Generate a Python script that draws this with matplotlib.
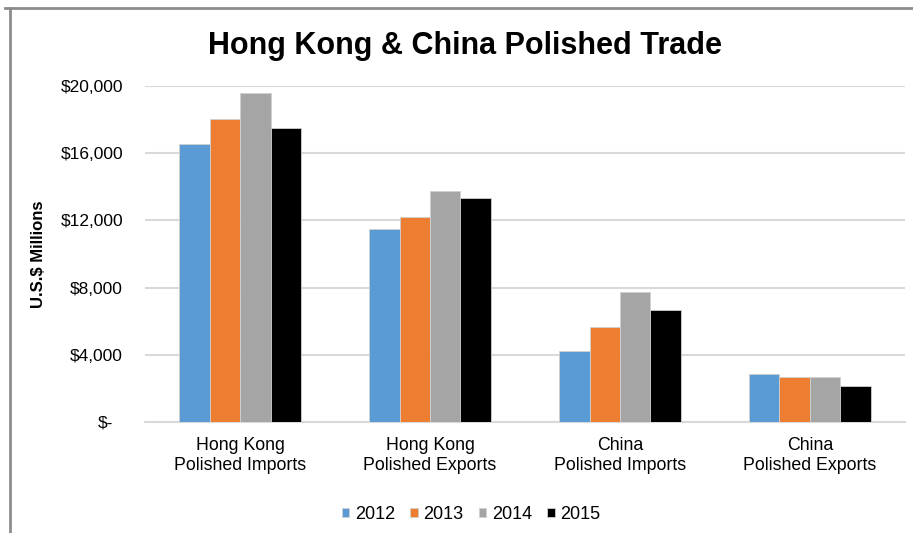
import matplotlib
matplotlib.use("Agg")
import matplotlib.pyplot as plt
import matplotlib.transforms as mtransforms
from matplotlib.lines import Line2D
import numpy as np

plt.rcParams['font.family'] = ['Liberation Sans', 'DejaVu Sans']

# data (US$ millions)
categories = ["Hong Kong\nPolished Imports", "Hong Kong\nPolished Exports",
              "China\nPolished Imports", "China\nPolished Exports"]
years = ["2012", "2013", "2014", "2015"]
v2012 = [16550, 11500, 4230, 2860]
v2013 = [18050, 12200, 5660, 2660]
v2014 = [19580, 13730, 7740, 2680]
v2015 = [17500, 13310, 6690, 2130]
yticks = [0, 4000, 8000, 12000, 16000, 20000]
ytick_labels = ["$-", "$4,000", "$8,000", "$12,000", "$16,000", "$20,000"]

colors = ["#5b9bd5", "#ed7d31", "#a5a5a5", "#000000"]

fig = plt.figure(figsize=(9.13, 5.33), dpi=100)
ax = fig.add_axes([0.159, 0.2083, 0.832, 0.6303])

x = np.arange(len(categories))
w = 0.16
series = [v2012, v2013, v2014, v2015]
for i, (vals, yr) in enumerate(zip(series, years)):
    ax.bar(x + (i - 1.5) * w, vals, width=w, color=colors[i], label=yr,
           edgecolor="#d0d0d0", linewidth=0.6, zorder=3)

ax.set_xlim(-0.5, len(categories) - 0.5)
ax.set_ylim(0, 20000)
ax.set_yticks(yticks)
ax.set_yticklabels(ytick_labels, fontsize=12.5)
ax.set_xticks(x)
ax.set_xticklabels(categories, fontsize=12.8, linespacing=1.3)
ax.tick_params(axis="y", length=0, pad=16)
ax.tick_params(axis="x", length=0, pad=10.5)
ax.yaxis.grid(True, color="#d9d9d9", linewidth=1.5, zorder=0)
for s in ["top", "right", "left"]:
    ax.spines[s].set_visible(False)
ax.spines["bottom"].set_color("#d9d9d9")
ax.spines["bottom"].set_linewidth(1.5)

# accounting style: the "$-" label sits a bit further left
zero_lab = ax.get_yticklabels()[0]
zero_lab.set_transform(zero_lab.get_transform() +
                       mtransforms.ScaledTranslation(-0.10, 0, fig.dpi_scale_trans))

ax.set_ylabel("U.S.$ Millions", fontsize=12, fontweight="bold")
ax.yaxis.set_label_coords(-0.130, 0.5)

fig.text(0.509, 0.914, "Hong Kong & China Polished Trade", ha="center", va="center",
         fontsize=22, fontweight="bold")

fig.legend(loc="center", bbox_to_anchor=(0.516, 0.035), ncol=4, frameon=False,
           fontsize=13, handlelength=0.42, handleheight=0.42, handletextpad=0.3,
           columnspacing=0.85)

# chart frame (top and left edges visible)
fig.add_artist(Line2D([0.006, 1.0], [0.985, 0.985], color="#8c8c8c", linewidth=2,
                      transform=fig.transFigure))
fig.add_artist(Line2D([0.0105, 0.0105], [0.0, 0.985], color="#8c8c8c", linewidth=2,
                      transform=fig.transFigure))

fig.savefig("out.png", dpi=100)
